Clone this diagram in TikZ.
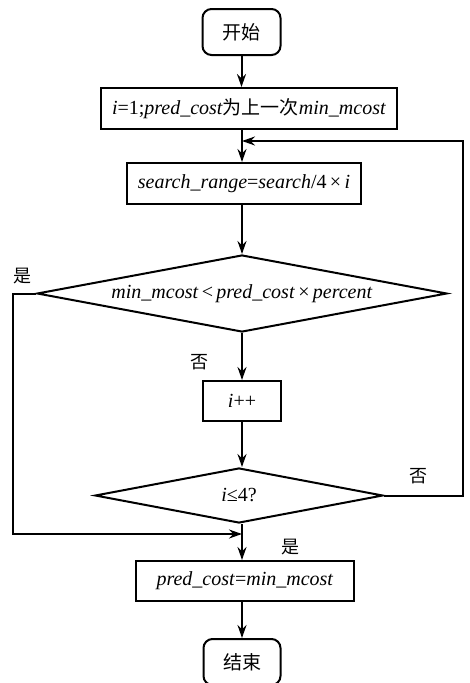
\documentclass[tikz,border=0pt]{standalone}
\usepackage{fontspec}
\setmainfont{Liberation Serif}
\newfontfamily\cjk{Noto Sans CJK SC}
\usetikzlibrary{shapes.geometric,arrows.meta}
\begin{document}
\begin{tikzpicture}[x=1pt,y=-1pt,
  base/.style={draw,line width=2pt,font=\fontsize{20}{24}\selectfont,inner sep=0pt},
  term/.style={base,rounded corners=9pt,minimum width=78pt,minimum height=46pt},
  proc/.style={base,minimum height=41pt},
  conn/.style={line width=2pt,-{Stealth[length=13pt,width=9pt]}},
  line/.style={line width=2pt},
  lab/.style={font=\cjk\fontsize{18}{20}\selectfont}]
\useasboundingbox (0,0) rectangle (469,683);
\node[term] (start) at (241.5,32) {\cjk\fontsize{19}{22}\selectfont 开始};
\node[proc,minimum width=296pt] (init) at (249,108.5) {\textit{i}=1;\textit{pred\_cost}{\cjk\fontsize{19}{22}\selectfont 为上一次}\textit{min\_mcost}};
\node[proc,minimum width=234pt] (range) at (244,183.5) {\textit{search\_range}=\textit{search}/4\,×\,\textit{i}};
\node[base,diamond,minimum width=410pt,minimum height=77pt,aspect=5.3] (d1) at (242,293.5) {\textit{min\_mcost}\,<\,\textit{pred\_cost}\,×\,\textit{percent}};
\node[proc,minimum width=78pt,minimum height=40pt] (inc) at (242,401) {\textit{i}++};
\node[base,diamond,minimum width=288pt,minimum height=55pt,aspect=5.2] (d2) at (239,495.5) {\textit{i}≤4?};
\node[proc,minimum width=218pt,minimum height=40pt] (upd) at (245,581) {\textit{pred\_cost}=\textit{min\_mcost}};
\node[term,minimum width=77pt,minimum height=46pt] (stop) at (242,662) {\cjk\fontsize{19}{22}\selectfont 结束};
\coordinate (j1) at (242,141);
\coordinate (j2) at (242,534);
\coordinate (r1) at (463,495.5);
\coordinate (r2) at (463,141);
\coordinate (l1) at (13,293.5);
\coordinate (l2) at (13,534);
\draw[conn] (start.south) -- (start.south |- init.north);
\draw[conn] (init.south -| j1) -- (j1 |- range.north);
\draw[conn] (range.south -| d1.north) -- (d1.north);
\draw[conn] (d1.south) -- (d1.south |- inc.north);
\draw[conn] (inc.south) -- (inc.south |- d2.north);
\draw[line] (d2.south -| j2) -- (j2);
\draw[conn] (j2) -- (j2 |- upd.north);
\draw[conn] (upd.south -| stop.north) -- (stop.north);
\draw[conn] (d2.east) -- (r1) -- (r2) -- (j1);
\draw[conn] (d1.west) -- (l1) -- (l2) -- (j2);
\node[lab] (y1) at (22,276) {是};
\node[lab] (n1) at (199,362) {否};
\node[lab] (n2) at (418,476) {否};
\node[lab] (y2) at (290,547) {是};
\end{tikzpicture}
\end{document}
